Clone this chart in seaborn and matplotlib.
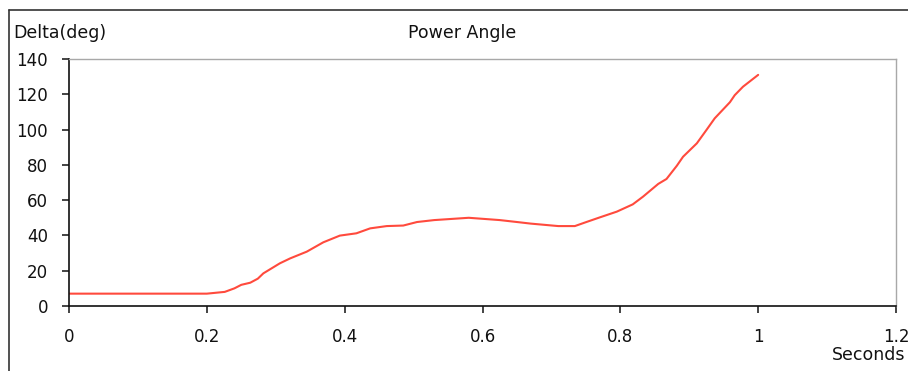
import matplotlib
matplotlib.use("Agg")
import matplotlib.pyplot as plt
from matplotlib.lines import Line2D
import seaborn as sns
import pandas as pd

# Rotor power angle response after the disturbance
time_s = [0.0, 0.2, 0.226, 0.24, 0.25, 0.263, 0.274, 0.282, 0.306, 0.321, 0.345,
          0.369, 0.393, 0.417, 0.437, 0.461, 0.485, 0.505, 0.53, 0.58, 0.625,
          0.65, 0.67, 0.71, 0.734, 0.75, 0.77, 0.795, 0.818, 0.833, 0.855,
          0.867, 0.882, 0.891, 0.911, 0.925, 0.937, 0.959, 0.966, 0.978, 1.0]
delta_deg = [7.0, 7.0, 8.0, 10.0, 12.0, 13.2, 15.5, 18.5, 24.2, 27.0, 30.8,
             36.1, 39.9, 41.2, 44.0, 45.3, 45.6, 47.6, 48.7, 50.0, 48.7,
             47.6, 46.7, 45.3, 45.3, 47.5, 50.2, 53.5, 57.6, 62.0, 69.2,
             72.0, 79.5, 84.6, 92.2, 99.8, 106.4, 115.5, 119.5, 124.3, 131.0]

x_ticks = [0, 0.2, 0.4, 0.6, 0.8, 1.0, 1.2]
x_tick_labels = ["0", "0.2", "0.4", "0.6", "0.8", "1", "1.2"]
y_ticks = [0, 20, 40, 60, 80, 100, 120, 140]

sns.set_theme(style="white")
plt.rcParams["font.family"] = ["DejaVu Sans"]

W, H = 908, 371
fig = plt.figure(figsize=(W / 100, H / 100), dpi=100)
ax = fig.add_axes([69 / W, 1 - 306 / H, (896 - 69) / W, (306 - 59) / H])

df = pd.DataFrame({"Seconds": time_s, "Delta": delta_deg})
sns.lineplot(data=df, x="Seconds", y="Delta", ax=ax, color="#ff4a3d",
             linewidth=1.5, estimator=None, sort=False)

ax.set_xlim(0, 1.2)
ax.set_ylim(0, 140)
ax.set_xticks(x_ticks)
ax.set_xticklabels(x_tick_labels)
ax.set_yticks(y_ticks)
ax.set_xlabel("")
ax.set_ylabel("")

ax.tick_params(axis="both", which="major", labelsize=12, colors="#111111",
               length=5, width=1.1, direction="out")
ax.tick_params(axis="x", pad=11, bottom=True)
ax.tick_params(axis="y", pad=10, left=True)

for side in ("left", "bottom"):
    ax.spines[side].set_color("#111111")
    ax.spines[side].set_linewidth(1.2)
for side in ("top", "right"):
    ax.spines[side].set_visible(True)
    ax.spines[side].set_color("#a8a8a8")
    ax.spines[side].set_linewidth(1.0)

fig.text(13 / W, 1 - 33 / H, "Delta(deg)", fontsize=12.5, ha="left",
         va="center", color="#111111")
fig.text(462 / W, 1 - 33 / H, "Power Angle", fontsize=12.5, ha="center",
         va="center", color="#111111")
fig.text(905 / W, 1 - 355 / H, "Seconds", fontsize=12.5, ha="right",
         va="center", color="#111111")

# Outer chart frame (left and top edges)
fig.add_artist(Line2D([9 / W, 9 / W], [0, 1 - 10 / H], transform=fig.transFigure,
                      color="#333333", linewidth=1.2))
fig.add_artist(Line2D([9 / W, 1], [1 - 10 / H, 1 - 10 / H],
                      transform=fig.transFigure, color="#333333", linewidth=1.2))

fig.savefig("out.png", dpi=100, facecolor="white")
